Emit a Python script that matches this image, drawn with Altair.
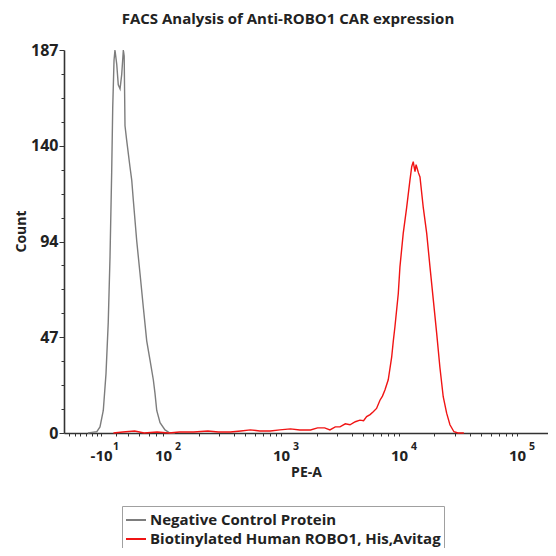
import json
import altair as alt
import pandas as pd

# ---------------- data ----------------
# x values are positions on the biexponential PE-A display axis, in decades
# (2 = 10^2, 3 = 10^3, ...); y values are event counts.
series_names = ["Negative Control Protein", "Biotinylated Human ROBO1, His,Avitag"]
series_colors = ["#7d7d7d", "#f01414"]

neg_x = [1.364, 1.398, 1.438, 1.466, 1.494, 1.517, 1.536, 1.551, 1.565, 1.574,
         1.585, 1.593, 1.608, 1.621, 1.636, 1.650, 1.664, 1.671, 1.678, 1.692,
         1.720, 1.735, 1.748, 1.777, 1.805, 1.833, 1.862, 1.890, 1.918, 1.932,
         1.947, 1.975, 2.017, 2.059, 2.100]
neg_y = [0, 0.3, 0.6, 3, 11, 29, 54, 86, 127, 159,
         182, 187, 180, 170, 168, 175, 187, 184, 150, 143,
         130, 123.5, 114, 94, 78, 61.5, 45, 35.6, 26, 19.5,
         11, 5, 1.5, 0, 0]

pos_x = [1.58, 1.66, 1.76, 1.84, 1.95, 2.05, 2.14, 2.26, 2.38, 2.47,
         2.57, 2.66, 2.74, 2.82, 2.91, 2.99, 3.08, 3.16, 3.25, 3.31,
         3.37, 3.415, 3.46, 3.50, 3.545, 3.585, 3.63, 3.669, 3.70, 3.726,
         3.755, 3.782, 3.81, 3.839, 3.86, 3.881, 3.909, 3.938, 3.952, 3.966,
         3.994, 4.008, 4.036, 4.065, 4.093, 4.108, 4.121, 4.128, 4.136, 4.145,
         4.155, 4.165, 4.178, 4.206, 4.235, 4.263, 4.291, 4.319, 4.347, 4.375,
         4.404, 4.432, 4.466, 4.50, 4.55]
pos_y = [0, 0.5, 1, 0, 0.5, 0, 0.5, 0.5, 1, 0.5,
         0.5, 1, 1.5, 1, 1, 1.5, 2, 1.5, 1.5, 2.5,
         2.5, 1.5, 3, 3, 4.5, 4, 5.5, 6.3, 6, 8,
         9, 10.4, 12, 16, 18, 21, 26, 37, 45, 52,
         68, 81, 97.5, 110, 123.5, 130, 132.5, 130, 127.6, 131,
         129, 127, 125, 110, 97.5, 81, 65, 49, 32, 17.7,
         9.7, 4, 0.6, 0, 0]

# axis ticks
x_major = [1.475, 2, 3, 4, 5]
x_major_labels = ["-10", "10", "10", "10", "10"]
x_exponents = ["1", "2", "3", "4", "5"]
x_minor = [1.20, 1.25, 1.30, 1.35, 1.40, 1.44, 1.60, 1.70, 1.80, 1.88, 1.94,
           2.301, 2.477, 2.602, 2.699, 2.778, 2.845, 2.903, 2.954,
           3.301, 3.477, 3.602, 3.699, 3.778, 3.845, 3.903, 3.954,
           4.301, 4.477, 4.602, 4.699, 4.778, 4.845, 4.903, 4.954]
x_domain = [1.161, 5.263]

y_major = [0, 46.75, 93.5, 140.25, 187]
y_major_labels = ["0", "47", "94", "140", "187"]
y_minor = [11.6875, 23.375, 35.0625, 58.4375, 70.125, 81.8125,
           105.1875, 116.875, 128.5625, 151.9375, 163.625, 175.3125]
y_domain = [0, 187]

title_text = "FACS Analysis of Anti-ROBO1 CAR expression"
x_title = "PE-A"
y_title = "Count"

# ---------------- build ----------------
df = pd.concat([
    pd.DataFrame({"x": neg_x, "count": neg_y, "series": series_names[0]}),
    pd.DataFrame({"x": pos_x, "count": pos_y, "series": series_names[1]}),
], ignore_index=True)

exp_df = pd.DataFrame({"x": x_major, "exp": x_exponents})
title_df = pd.DataFrame({"t": [title_text]})

FONT = "Open Sans"
TXT = "#222222"
AX = "#333333"


def label_expr(values, labels):
    expr = "''"
    for v, l in reversed(list(zip(values, labels))):
        expr = f"datum.value == {v} ? '{l}' : ({expr})"
    return expr


x_axis = alt.Axis(
    values=x_major + x_minor,
    labelExpr=label_expr(x_major, x_major_labels),
    labelFont=FONT, labelFontWeight="bold", labelFontSize=15, labelColor=TXT,
    labelPadding=12, labelOverlap=False, labelFlush=False, labelBound=False,
    tickSize=3, tickColor=AX, tickWidth=1,
    domainColor=AX, domainWidth=1.6, grid=False,
    title=x_title, titleFont=FONT, titleFontWeight="bold", titleFontSize=14,
    titleColor=TXT, titleY=39, titleBaseline="middle",
)

y_axis = alt.Axis(
    values=y_major + y_minor,
    labelExpr=label_expr(y_major, y_major_labels),
    labelFont=FONT, labelFontWeight="bold", labelFontSize=16, labelColor=TXT,
    labelPadding=1, labelOverlap=False, labelFlush=False,
    tickSize={"condition": {"test": "indexof(" + json.dumps(y_major) + ", datum.value) >= 0",
                            "value": 5}, "value": 3},
    tickColor=AX, tickWidth=1,
    domainColor=AX, domainWidth=1.6, grid=False,
    title=y_title, titleFont=FONT, titleFontWeight="bold", titleFontSize=14,
    titleColor=TXT, titleX=-43, titleY=181, titleAngle=-90,
    titleAlign="center", titleBaseline="middle",
)

x_scale = alt.Scale(domain=x_domain, nice=False, zero=False)

lines = alt.Chart(df).mark_line(strokeWidth=1.4, interpolate="linear").encode(
    x=alt.X("x:Q", scale=x_scale, axis=x_axis),
    y=alt.Y("count:Q", scale=alt.Scale(domain=y_domain, nice=False), axis=y_axis),
    color=alt.Color(
        "series:N",
        scale=alt.Scale(domain=series_names, range=series_colors),
        legend=alt.Legend(
            orient="none", legendX=58, legendY=456, title=None,
            strokeColor="#a0a0a0", fillColor="white", padding=3,
            symbolType="stroke", symbolSize=400, symbolStrokeWidth=2,
            labelFont=FONT, labelFontWeight="bold", labelFontSize=15,
            labelColor=TXT, labelOffset=3, labelLimit=500, rowPadding=0,
        ),
    ),
    order=alt.Order("x:Q"),
)

exps = alt.Chart(exp_df).mark_text(
    font=FONT, fontWeight="bold", fontSize=10.5, color=TXT,
    align="left", baseline="middle", dx=12,
).encode(
    x=alt.X("x:Q", scale=x_scale, axis=x_axis),
    y=alt.value(397),
    text="exp:N",
)

title = alt.Chart(title_df).mark_text(
    font=FONT, fontWeight="bold", fontSize=15, color=TXT,
    align="center", baseline="middle",
).encode(
    x=alt.value(224),
    y=alt.value(-31),
    text="t:N",
)

chart = alt.layer(lines, exps, title).properties(
    width=484,
    height=383,
    autosize=alt.AutoSizeParams(type="none"),
    padding={"left": 56, "top": 42, "right": 0, "bottom": 115},
    background="white",
).configure_view(stroke=None)

chart.save("out.html", embed_options={"renderer": "svg", "actions": False})
